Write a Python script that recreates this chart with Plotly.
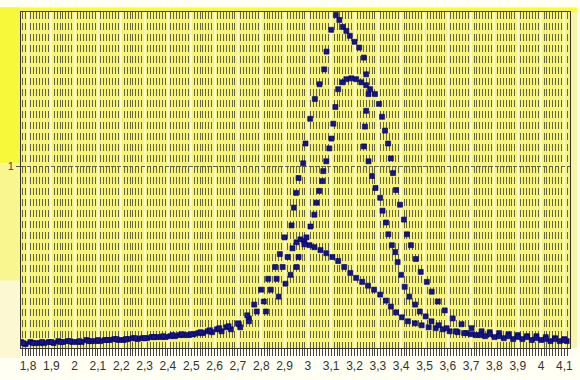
import plotly.graph_objects as go

# ---- axis ticks ----
tick_values = [1.8, 1.9, 2.0, 2.1, 2.2, 2.3, 2.4, 2.5, 2.6, 2.7, 2.8, 2.9, 3.0,
               3.1, 3.2, 3.3, 3.4, 3.5, 3.6, 3.7, 3.8, 3.9, 4.0, 4.1]
tick_labels = ["1,8", "1,9", "2", "2,1", "2,2", "2,3", "2,4", "2,5", "2,6", "2,7", "2,8",
               "2,9", "3", "3,1", "3,2", "3,3", "3,4", "3,5", "3,6", "3,7", "3,8", "3,9",
               "4", "4,1"]
y_tick_values = [1]
y_tick_labels = ["1"]

# ---- series 1: tall peak ----
tall_x = [1.78, 1.82, 1.86, 1.90, 1.94, 1.98, 2.02, 2.06, 2.10, 2.14, 2.18, 2.22, 2.26,
          2.30, 2.34, 2.38, 2.42, 2.46, 2.50, 2.54, 2.58, 2.62, 2.66, 2.70, 2.74, 2.77,
          2.80, 2.83, 2.86, 2.88, 2.90, 2.93, 2.94, 2.95, 2.96, 2.98, 2.99, 3.01, 3.03,
          3.05, 3.07, 3.08, 3.10, 3.12, 3.135, 3.15, 3.165, 3.18, 3.20, 3.22, 3.24, 3.25,
          3.26, 3.25, 3.245, 3.24, 3.26, 3.275, 3.29, 3.31, 3.32, 3.335, 3.345, 3.36,
          3.375, 3.385, 3.40, 3.415, 3.435, 3.46, 3.48, 3.505, 3.53, 3.56, 3.595, 3.635,
          3.67, 3.70, 3.74, 3.78, 3.82, 3.86, 3.90, 3.94, 3.98, 4.02, 4.06, 4.10]
tall_y = [0.027, 0.027, 0.033, 0.033, 0.033, 0.038, 0.038, 0.038, 0.044, 0.044, 0.049,
          0.049, 0.054, 0.054, 0.060, 0.065, 0.071, 0.076, 0.076, 0.087, 0.098, 0.109,
          0.120, 0.136, 0.180, 0.239,
          0.321, 0.381, 0.446, 0.517, 0.609, 0.675, 0.773, 0.854, 0.936, 1.017, 1.126,
          1.262, 1.371, 1.452, 1.534, 1.632, 1.752, 1.833, 1.806, 1.768, 1.746, 1.719,
          1.686, 1.654, 1.599, 1.507, 1.398, 1.306, 1.219, 1.110, 1.028, 0.947, 0.881,
          0.827, 0.756, 0.691, 0.626, 0.566, 0.528, 0.473, 0.403, 0.337, 0.283, 0.239,
          0.201, 0.174, 0.147, 0.125, 0.109, 0.092, 0.082,
          0.076, 0.071, 0.076, 0.065, 0.065, 0.060, 0.060, 0.054, 0.049, 0.049, 0.044]

# ---- series 2: medium peak ----
mid_x = [1.79, 1.83, 1.87, 1.91, 1.95, 1.99, 2.03, 2.07, 2.11, 2.15, 2.19, 2.23, 2.27,
         2.31, 2.35, 2.39, 2.43, 2.47, 2.51, 2.55, 2.59, 2.63, 2.67, 2.71,
         2.747, 2.82, 2.875, 2.904, 2.926, 2.951, 2.96, 2.985, 2.994, 3.011, 3.028,
         3.037, 3.049, 3.062, 3.066, 3.079, 3.092, 3.101, 3.109, 3.118, 3.130, 3.148,
         3.165, 3.186, 3.207, 3.229, 3.250, 3.267, 3.288, 3.305, 3.318, 3.331, 3.344,
         3.356, 3.365, 3.378, 3.395, 3.412, 3.425, 3.442, 3.463, 3.484, 3.510, 3.531,
         3.557, 3.587, 3.621, 3.659, 3.702, 3.745,
         3.78, 3.82, 3.86, 3.90, 3.94, 3.98, 4.02, 4.06, 4.10]
mid_y = [0.022, 0.027, 0.027, 0.027, 0.033, 0.033, 0.033, 0.038, 0.038, 0.044, 0.044,
         0.049, 0.049, 0.054, 0.060, 0.060, 0.065, 0.071, 0.076, 0.082, 0.087, 0.092,
         0.103, 0.114,
         0.147, 0.201, 0.283, 0.354, 0.403, 0.446, 0.501, 0.571, 0.609, 0.669, 0.734,
         0.800, 0.865, 0.919, 0.974, 1.028, 1.099, 1.153, 1.235, 1.327, 1.425, 1.463,
         1.480, 1.485, 1.480, 1.463, 1.447, 1.425, 1.398, 1.344, 1.273, 1.197, 1.126,
         1.044, 0.963, 0.870, 0.789, 0.707, 0.626, 0.566, 0.490, 0.419, 0.364, 0.310,
         0.256, 0.207, 0.163, 0.131, 0.109, 0.092,
         0.087, 0.082, 0.076, 0.071, 0.065, 0.065, 0.060, 0.054, 0.049]

# ---- series 3: low peak ----
low_x = [1.77, 1.81, 1.85, 1.89, 1.93, 1.97, 2.01, 2.05, 2.09, 2.13, 2.17, 2.21, 2.25,
         2.29, 2.33, 2.37, 2.41, 2.45, 2.49, 2.53, 2.57, 2.61, 2.65,
         2.704, 2.747, 2.781, 2.811, 2.841, 2.866, 2.892, 2.913, 2.934, 2.951, 2.968,
         2.985, 3.007, 3.028, 3.054, 3.079, 3.105, 3.130, 3.156, 3.182, 3.207, 3.233,
         3.258, 3.284, 3.310, 3.335, 3.356, 3.378, 3.403, 3.429, 3.459, 3.488, 3.518,
         3.548, 3.578, 3.608, 3.642,
         3.68, 3.72, 3.76, 3.80, 3.84, 3.88, 3.92, 3.96, 4.00, 4.04, 4.08, 4.11]
low_y = [0.033, 0.033, 0.027, 0.033, 0.038, 0.038, 0.033, 0.044, 0.038, 0.044, 0.049,
         0.044, 0.054, 0.054, 0.060, 0.060, 0.065, 0.071, 0.071, 0.082, 0.092, 0.103,
         0.114,
         0.131, 0.163, 0.201, 0.256, 0.321, 0.381, 0.446, 0.501, 0.549, 0.582, 0.598,
         0.588, 0.566, 0.555, 0.539, 0.522, 0.501, 0.479, 0.446, 0.413, 0.386, 0.364,
         0.343, 0.321, 0.294, 0.261, 0.228, 0.196, 0.169, 0.147, 0.136, 0.125, 0.114,
         0.109, 0.103, 0.092, 0.087,
         0.082, 0.071, 0.065, 0.060, 0.054, 0.049, 0.049, 0.044, 0.044, 0.038, 0.038,
         0.038]

marker_style = dict(symbol="square", size=5, color="#14148c",
                    line=dict(width=0.6, color="#000060"))

fig = go.Figure()
for xs, ys in [(low_x, low_y), (mid_x, mid_y), (tall_x, tall_y)]:
    fig.add_trace(go.Scatter(x=xs, y=ys, mode="markers", marker=marker_style,
                             showlegend=False, hoverinfo="skip"))

# yellow frame around the plot area (outside it)
shapes = [
    dict(type="rect", xref="paper", yref="paper", x0=-0.04, x1=1.013, y0=1.0, y1=1.0135,
         fillcolor="#fbfb2e", line_width=0, layer="below"),
    dict(type="rect", xref="paper", yref="paper", x0=-0.04, x1=0, y0=0.55, y1=1.0135,
         fillcolor="#f8f83a", line_width=0, layer="below"),
    dict(type="rect", xref="paper", yref="paper", x0=-0.04, x1=0, y0=0.2, y1=0.55,
         fillcolor="#f9f690", line_width=0, layer="below"),
    dict(type="rect", xref="paper", yref="paper", x0=-0.04, x1=0, y0=-0.03, y1=0.2,
         fillcolor="#fbf8d2", line_width=0, layer="below"),
    dict(type="rect", xref="paper", yref="paper", x0=1.0, x1=1.013, y0=0.0, y1=1.0,
         fillcolor="#f7f3a8", line_width=0, layer="below"),
]

fig.update_layout(
    width=580, height=380,
    margin=dict(l=21, r=7, t=12, b=28),
    paper_bgcolor="#fffff4",
    plot_bgcolor="#f7f47e",
    shapes=shapes,
    font=dict(family="Liberation Sans Narrow, Liberation Sans, Arial", color="#333333"),
)
fig.update_xaxes(
    range=[1.770, 4.124],
    tickmode="array", tickvals=tick_values, ticktext=tick_labels,
    tickfont=dict(size=12, color="#333333"),
    ticks="outside", ticklen=7, tickcolor="#444444",
    showgrid=True, gridcolor="#fffbd0", gridwidth=1.5,
    showline=True, linecolor="#333333", linewidth=1, mirror=True,
    zeroline=False,
    minor=dict(dtick=0.0125, tick0=1.8, showgrid=True, gridcolor="#66663e",
               griddash="7px,4px", gridwidth=1, ticks="outside", ticklen=7,
               tickcolor="#444444"),
)
fig.update_yaxes(
    range=[0, 1.85],
    tickmode="array", tickvals=y_tick_values, ticktext=y_tick_labels,
    tickfont=dict(size=11, color="#444444"),
    ticks="outside", ticklen=4, tickcolor="#555555",
    showgrid=True, gridcolor="#606050", griddash="4px,2px", gridwidth=1,
    showline=True, linecolor="#333333", linewidth=1, mirror=True,
    zeroline=False,
)

fig.write_html("out.html",
               config={"displayModeBar": False},
               post_script="document.body.style.margin='0';document.body.style.overflow='hidden';")
